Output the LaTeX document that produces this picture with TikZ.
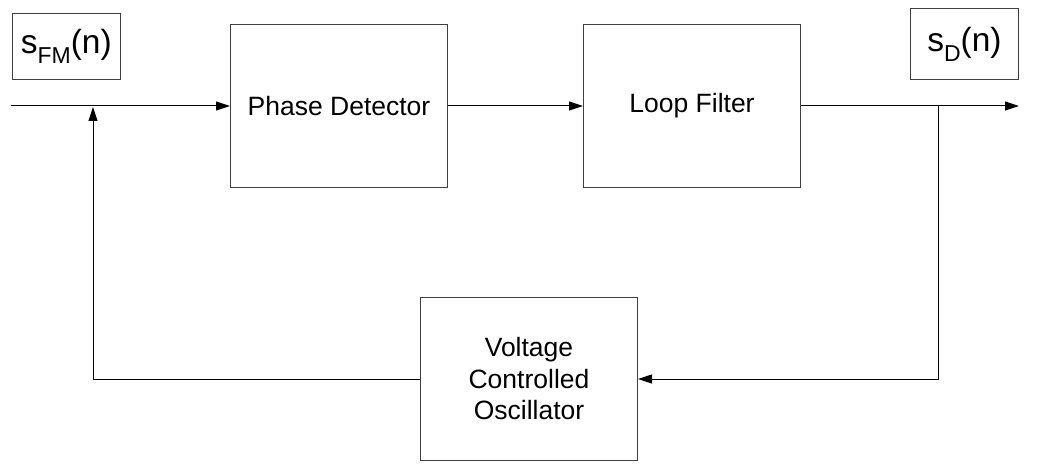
\documentclass[tikz,border=0pt]{standalone}
\usepackage{fontspec}
\setmainfont{Liberation Sans}
\usetikzlibrary{arrows.meta}
\begin{document}
\begin{tikzpicture}[x=1pt,y=-1pt,
  blk/.style={draw=black!75,line width=1pt,minimum width=217pt,minimum height=163pt,anchor=north west,inner sep=0pt,align=center,font=\fontsize{26.5}{31.5}\selectfont},
  lbl/.style={draw=black!75,line width=1pt,anchor=north west,inner sep=0pt,font=\fontsize{33.5}{33.5}\selectfont},
  conn/.style={line width=1pt,-{Triangle[length=14pt,width=9pt]}},
  wire/.style={line width=1pt}]
\useasboundingbox (0,0) rectangle (1037,465);
\node[blk] (pd) at (230,24) {Phase Detector};
\node[blk] (lf) at (583,24) {Loop Filter};
\node[blk] (vco) at (420,297) {Voltage\\Controlled\\Oscillator};
\node[lbl,minimum width=108.5pt,minimum height=66pt] (sfm) at (11.5,13) {s\raisebox{-10pt}{\fontsize{23}{23}\selectfont FM}(n)};
\node[lbl,minimum width=108pt,minimum height=71pt] (sd) at (910,8) {s\raisebox{-10pt}{\fontsize{23}{23}\selectfont D}(n)};
\coordinate (in) at (11,106);
\coordinate (out) at (1019,106);
\coordinate (tap) at (938,106);
\coordinate (fb) at (93,107);
\draw[conn] (in) -- (pd.west |- in);
\draw[conn] (pd.east |- in) -- (lf.west |- in);
\draw[conn] (lf.east |- in) -- (out);
\draw[conn] (tap) |- (vco.east);
\draw[conn] (vco.west) -| (fb);
\end{tikzpicture}
\end{document}
